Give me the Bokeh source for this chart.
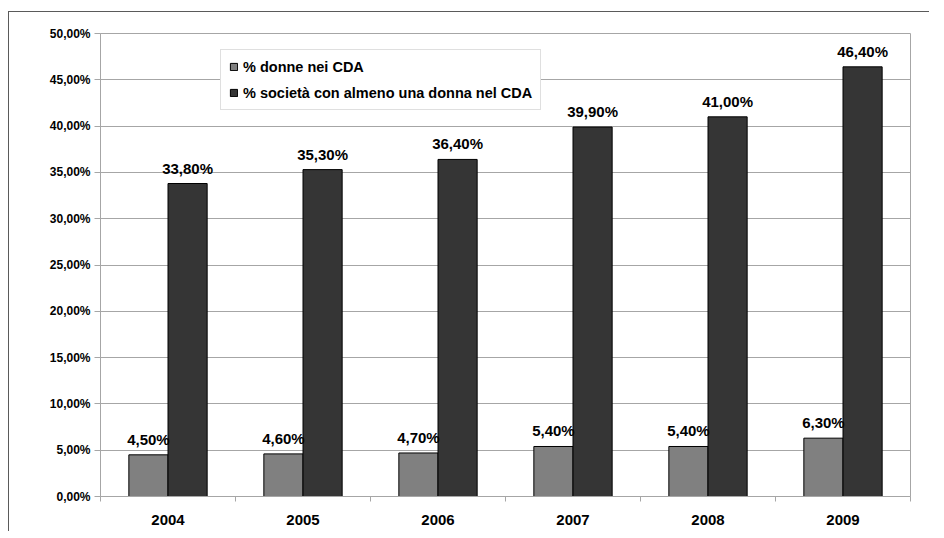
from bokeh.plotting import figure
from bokeh.models import FixedTicker, CustomJSTickFormatter, Range1d, Legend, LegendItem
from bokeh.core.properties import value
from bokeh.embed import file_html
from bokeh.resources import INLINE

years = ["2004", "2005", "2006", "2007", "2008", "2009"]
donne = [4.5, 4.6, 4.7, 5.4, 5.4, 6.3]
societa = [33.8, 35.3, 36.4, 39.9, 41.0, 46.4]
series_names = ["% donne nei CDA", "% società con almeno una donna nel CDA"]
y_ticks = [0, 5, 10, 15, 20, 25, 30, 35, 40, 45, 50]

FONT_NAME = "Liberation Sans"
FONT = value(FONT_NAME)
GRAY = "#a6a6a6"
bar_w = 0.29

idx = list(range(len(years)))
centers = [i + 0.5 for i in idx]
x1 = [c - bar_w / 2 for c in centers]
x2 = [c + bar_w / 2 for c in centers]

def fmt(v):
    return f"{v:.2f}".replace(".", ",") + "%"

lab1 = [fmt(v) for v in donne]
lab2 = [fmt(v) for v in societa]

p = figure(width=921, height=520, output_backend="svg", toolbar_location=None,
           x_range=Range1d(0, len(years)), y_range=Range1d(0, 50),
           min_border_left=91, min_border_right=20, min_border_top=21, min_border_bottom=36)
p.styles = {"border-top": "1.5px solid #5a5a5a", "border-left": "1.5px solid #5a5a5a",
            "margin-top": "11px", "margin-left": "8px"}

p.outline_line_color = GRAY
p.xgrid.grid_line_color = None
p.ygrid.grid_line_color = GRAY
p.ygrid.ticker = FixedTicker(ticks=y_ticks)

r1 = p.vbar(x=x1, top=donne, bottom=0, width=bar_w, fill_color="#808080", line_color="black", line_width=1)
r2 = p.vbar(x=x2, top=societa, bottom=0, width=bar_w, fill_color="#353535", line_color="black", line_width=1)

p.text(x=x1, y=donne, text=lab1, text_align="center", text_baseline="bottom", y_offset=-7,
       text_font=FONT, text_font_style="bold", text_font_size="15px", text_color="black")
p.text(x=x2, y=societa, text=lab2, text_align="center", text_baseline="bottom", y_offset=-7,
       text_font=FONT, text_font_style="bold", text_font_size="15px", text_color="black")

# y axis
ya = p.yaxis[0]
ya.ticker = FixedTicker(ticks=y_ticks)
ya.formatter = CustomJSTickFormatter(code="return tick.toFixed(2).replace('.', ',') + '%';")
ya.axis_line_color = GRAY
ya.major_tick_line_color = GRAY
ya.major_tick_in = 0
ya.major_tick_out = 6
ya.minor_tick_line_color = None
ya.major_label_standoff = 4
ya.major_label_text_font = FONT_NAME
ya.major_label_text_font_style = "bold"
ya.major_label_text_font_size = "12px"
ya.major_label_text_color = "black"

# x axis
xa = p.xaxis[0]
xa.ticker = FixedTicker(ticks=centers, minor_ticks=list(range(len(years) + 1)))
xa.major_label_overrides = {c: y for c, y in zip(centers, years)}
xa.axis_line_color = GRAY
xa.major_tick_line_color = None
xa.major_tick_in = 0
xa.major_tick_out = 0
xa.minor_tick_line_color = GRAY
xa.minor_tick_in = 0
xa.minor_tick_out = 5
xa.major_label_standoff = 13
xa.major_label_text_font = FONT_NAME
xa.major_label_text_font_style = "bold"
xa.major_label_text_font_size = "15px"
xa.major_label_text_color = "black"

legend = Legend(items=[LegendItem(label=series_names[0], renderers=[r1]),
                       LegendItem(label=series_names[1], renderers=[r2])],
                location=(120, 386), orientation="vertical",
                padding=8, margin=0, spacing=9,
                glyph_width=9, glyph_height=9, label_height=17, label_standoff=5,
                label_text_font=FONT_NAME, label_text_font_style="bold", label_text_font_size="14.5px",
                label_text_color="black", border_line_color="#c0c0c0", border_line_width=1,
                background_fill_color="white", background_fill_alpha=1)
p.add_layout(legend, "center")

open("out.html", "w").write(file_html(p, INLINE))
